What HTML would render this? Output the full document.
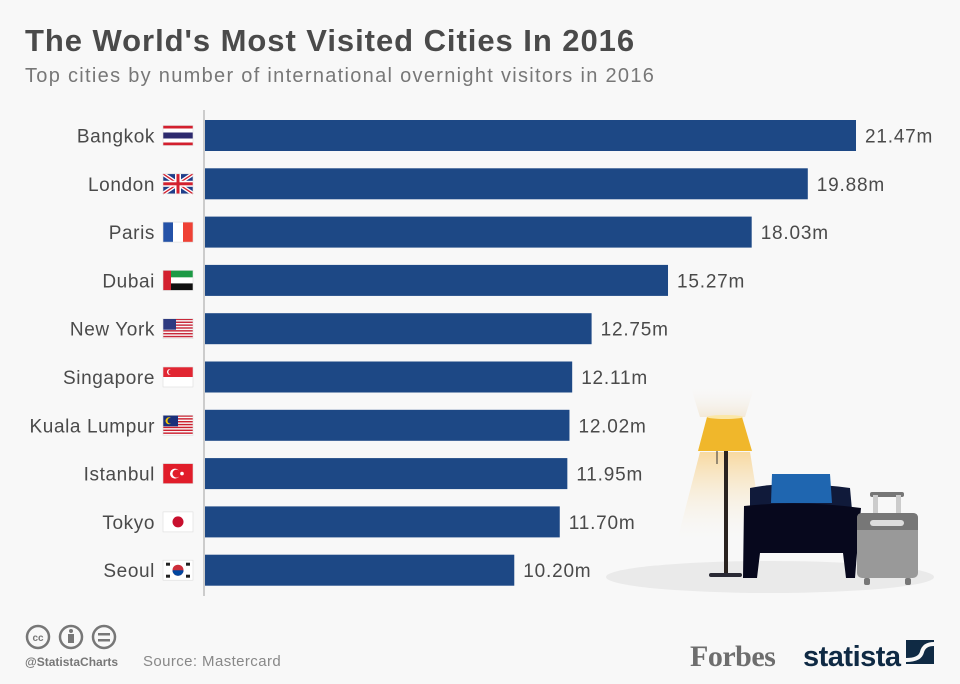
<!DOCTYPE html>
<html><head><meta charset="utf-8"><style>
body{margin:0;width:960px;height:684px;background:#f8f8f8;font-family:"Liberation Sans",sans-serif;overflow:hidden;position:relative}
.t{position:absolute;left:25px;top:23px;font-size:31px;font-weight:bold;color:#4a4a4a;margin:0;letter-spacing:0.95px}
.s{position:absolute;left:25px;top:65px;font-size:20px;color:#777;letter-spacing:1.3px}
</style></head><body>
<h1 class="t">The World's Most Visited Cities In 2016</h1>
<div class="s">Top cities by number of international overnight visitors in 2016</div>
<svg id="c" width="960" height="684" style="position:absolute;left:0;top:0">
<defs>
<linearGradient id="beam" x1="0" y1="0" x2="0" y2="1"><stop offset="0" stop-color="#f8d9a0"/><stop offset="1" stop-color="#f8f8f8" stop-opacity="0"/></linearGradient>
<linearGradient id="beamUp" x1="0" y1="1" x2="0" y2="0"><stop offset="0" stop-color="#f3e9d8"/><stop offset="1" stop-color="#f8f8f8" stop-opacity="0"/></linearGradient>
</defs>
<line x1="204" y1="110" x2="204" y2="596" stroke="#ccc" stroke-width="2"/>
<g id="illus">
<ellipse cx="770" cy="577" rx="164" ry="16" fill="#eaeaea"/>
<polygon points="690,385 755,385 745,417 700,417" fill="url(#beamUp)"/>
<polygon points="700,452 750,452 765,545 676,545" fill="url(#beam)"/>
<polygon points="707,417 742,417 752,451 698,451" fill="#f0b72b"/>
<ellipse cx="725" cy="417" rx="18" ry="2" fill="#fbe7a7"/>
<rect x="724" y="451" width="4" height="125" fill="#2a2320"/>
<line x1="717" y1="451" x2="717" y2="464" stroke="#333"/>
<rect x="709" y="573" width="33" height="4" rx="2" fill="#2a2a35"/>
<path d="M750,488 Q790,480 850,488 L852,510 L750,510Z" fill="#101a3a"/>
<path d="M772,474 L830,474 L832,503 L771,503Z" fill="#1f66b0"/>
<path d="M744,506 Q800,500 861,508 L857,553 L855,578 L846,578 L843,553 L760,553 L757,578 L743,578Z" fill="#07081d"/>
<rect x="870" y="492" width="34" height="5" rx="2" fill="#777"/>
<rect x="873" y="495" width="5" height="20" fill="#ccc"/><rect x="896" y="495" width="5" height="20" fill="#ccc"/>
<rect x="857" y="513" width="61" height="65" rx="5" fill="#999"/>
<path d="M857,530 L857,518 Q857,513 862,513 L913,513 Q918,513 918,518 L918,530Z" fill="#777"/>
<rect x="870" y="520" width="34" height="6" rx="3" fill="#ddd"/>
<rect x="864" y="578" width="6" height="7" rx="2" fill="#777"/><rect x="905" y="578" width="6" height="7" rx="2" fill="#777"/>
</g>
<g id="bars"></g>
<g>
<g fill="none" stroke="#777" stroke-width="2.5">
<circle cx="38" cy="637" r="11"/>
<circle cx="71" cy="637" r="11"/>
<circle cx="104" cy="637" r="11"/>
</g>
<text x="38" y="641" font-size="10" font-weight="bold" fill="#777" text-anchor="middle">cc</text>
<circle cx="71" cy="631" r="2" fill="#777"/><rect x="68" y="634" width="6" height="9" fill="#777"/>
<rect x="98" y="633" width="12" height="2.5" fill="#777"/><rect x="98" y="639" width="12" height="2.5" fill="#777"/>
<text x="25" y="666" font-size="12" font-weight="bold" fill="#777">@StatistaCharts</text>
<text x="143" y="666" font-size="15" fill="#888" letter-spacing="0.4">Source: Mastercard</text>
<text x="690" y="666" font-size="30" font-weight="bold" font-family="Liberation Serif,serif" fill="#6e6e6e" letter-spacing="-0.5">Forbes</text>
<text x="803" y="666" font-size="29" font-weight="bold" fill="#0f2a44" letter-spacing="-0.5">statista</text>
<g><rect x="906" y="640" width="28" height="24" fill="#0f2a44"/><path d="M906,660 Q920,660 922,652 Q924,644 934,644" stroke="#f8f8f8" stroke-width="4" fill="none"/></g>
</g>
</svg>
<script>
const cities=["Bangkok","London","Paris","Dubai","New York","Singapore","Kuala Lumpur","Istanbul","Tokyo","Seoul"];
const visitors=[21.47,19.88,18.03,15.27,12.75,12.11,12.02,11.95,11.70,10.20];
const valueLabels=["21.47m","19.88m","18.03m","15.27m","12.75m","12.11m","12.02m","11.95m","11.70m","10.20m"];
const NS="http://www.w3.org/2000/svg";
const x0=205,pxPer=651/21.47,y0=120,step=48.3,bh=31;
const xs=v=>x0+v*pxPer, ys=i=>y0+i*step;
const g=document.getElementById('bars');
function mk(t,a,p){const e=document.createElementNS(NS,t);for(const k in a)e.setAttribute(k,a[k]);(p||g).appendChild(e);return e;}
function flag(i,fx,fy){
 const f=mk('g',{transform:`translate(${fx},${fy})`});
 
 
 const W=30,H=20,r=(x,y,w,h,c)=>mk('rect',{x,y,width:w,height:h,fill:c},f);
 const n=cities[i];
 if(n=="Bangkok"){r(0,0,W,H,'#d3202f');r(0,3,W,14,'#fff');r(0,7,W,6,'#2d2a6e');}
 else if(n=="London"){r(0,0,W,H,'#1f3d8a');mk('path',{d:'M0,0L30,20M30,0L0,20',stroke:'#fff','stroke-width':4},f);mk('path',{d:'M0,0L30,20M30,0L0,20',stroke:'#d3202f','stroke-width':1.3},f);r(12,0,6,H,'#fff');r(0,7,W,6,'#fff');r(13.5,0,3,H,'#d3202f');r(0,8.5,W,3,'#d3202f');}
 else if(n=="Paris"){r(0,0,10,H,'#2452a8');r(10,0,10,H,'#fff');r(20,0,10,H,'#ef4135');}
 else if(n=="Dubai"){r(0,0,W,7,'#1c9a45');r(0,7,W,6,'#fff');r(0,13,W,7,'#111');r(0,0,8,H,'#d3202f');}
 else if(n=="New York"){for(let k=0;k<7;k++)r(0,k*20/7,W,10/7,'#c8283a');r(0,0,13,11,'#2d3a80');}
 else if(n=="Singapore"){r(0,0,W,10,'#e12632');r(0,10,W,10,'#fff');mk('circle',{cx:7,cy:5,r:3,fill:'#fff'},f);mk('circle',{cx:8.3,cy:5,r:3,fill:'#e12632'},f);}
 else if(n=="Kuala Lumpur"){for(let k=0;k<7;k++)r(0,k*20/7,W,10/7,'#cc1f2e');r(0,0,15,11,'#1a2f7a');mk('circle',{cx:6,cy:5.5,r:3.5,fill:'#f6c800'},f);mk('circle',{cx:7.5,cy:5.5,r:3,fill:'#1a2f7a'},f);}
 else if(n=="Istanbul"){r(0,0,W,H,'#e11d2a');mk('circle',{cx:12,cy:10,r:5,fill:'#fff'},f);mk('circle',{cx:13.5,cy:10,r:4,fill:'#e11d2a'},f);mk('circle',{cx:19,cy:10,r:1.8,fill:'#fff'},f);}
 else if(n=="Tokyo"){r(0,0,W,H,'#fff');mk('circle',{cx:15,cy:10,r:5.5,fill:'#c8102e'},f);}
 else {r(0,0,W,H,'#fff');mk('circle',{cx:15,cy:10,r:5.5,fill:'#cd2e3a'},f);mk('path',{d:'M9.5,10A5.5,5.5 0 0 0 20.5,10Z',fill:'#0047a0'},f);
   [[5,4],[25,4],[5,16],[25,16]].forEach(p=>r(p[0]-2,p[1]-1.5,4,3,'#222'));}
 mk('rect',{x:0,y:0,width:W,height:H,fill:'none',stroke:'#ddd','stroke-width':0.6},f);
}
cities.forEach((c,i)=>{
 const y=ys(i);
 const b=mk('rect',{x:x0,y:y,width:xs(visitors[i])-x0,height:bh,fill:'#1d4885'});
 
 
 const t=mk('text',{x:155,y:y+bh/2+7,'font-size':19,fill:'#4a4a4a','text-anchor':'end','letter-spacing':0.6});t.textContent=c;
 
 
 flag(i,163,y+bh/2-10);
 const v=mk('text',{x:xs(visitors[i])+9,y:y+bh/2+7,'font-size':19,fill:'#4a4a4a','letter-spacing':0.8});v.textContent=valueLabels[i];
 
 
});
</script>
</body></html>
